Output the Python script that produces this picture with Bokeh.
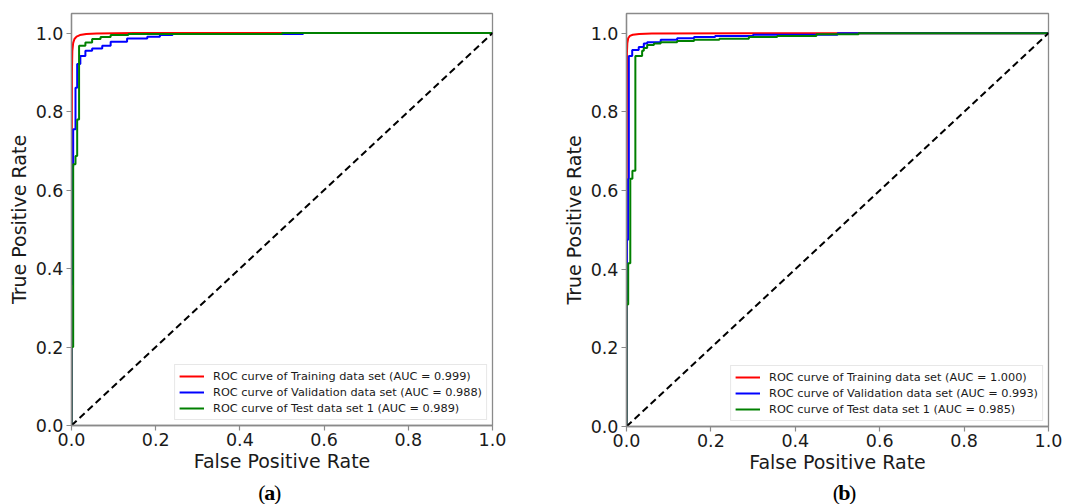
from bokeh.plotting import figure
from bokeh.layouts import row, column
from bokeh.models import Range1d, FixedTicker, NumeralTickFormatter
from bokeh.core.properties import value
from bokeh.embed import file_html
from bokeh.resources import INLINE

# ---------------- data ----------------
TICKS = [0.0, 0.2, 0.4, 0.6, 0.8, 1.0]
CHANCE_FPR = [0.0, 1.0]
CHANCE_TPR = [0.0, 1.0]

A_LABELS = ["ROC curve of Training data set (AUC = 0.999)",
            "ROC curve of Validation data set (AUC = 0.988)",
            "ROC curve of Test data set 1 (AUC = 0.989)"]
B_LABELS = ["ROC curve of Training data set (AUC = 1.000)",
            "ROC curve of Validation data set (AUC = 0.993)",
            "ROC curve of Test data set 1 (AUC = 0.985)"]
CAPTIONS = ["a", "b"]

# panel (a)
A_TRAIN_FPR = [0.0, 0.0, 0.001, 0.002, 0.004, 0.007, 0.012, 0.02, 0.035, 0.06, 0.15, 1.0]
A_TRAIN_TPR = [0.0, 0.35, 0.90, 0.955, 0.975, 0.985, 0.991, 0.995, 0.998, 0.999, 1.0, 1.0]
A_VAL_FPR = [0.0, 0.0, 0.002, 0.002, 0.004, 0.004, 0.0095, 0.0095, 0.0135, 0.0135, 0.021, 0.021,
             0.033, 0.033, 0.049, 0.049, 0.073, 0.073, 0.093, 0.093, 0.132, 0.132, 0.18, 0.18,
             0.21, 0.21, 0.24, 0.24, 0.55, 0.55, 1.0]
A_VAL_TPR = [0.0, 0.36, 0.36, 0.66, 0.66, 0.755, 0.755, 0.861, 0.861, 0.921, 0.921, 0.942,
             0.942, 0.955, 0.955, 0.961, 0.961, 0.968, 0.968, 0.978, 0.978, 0.986, 0.986, 0.991,
             0.991, 0.995, 0.995, 0.998, 0.998, 1.0, 1.0]
A_TEST_FPR = [0.0, 0.0, 0.004, 0.004, 0.0095, 0.0095, 0.0135, 0.0135, 0.018, 0.018, 0.033, 0.033,
              0.049, 0.049, 0.069, 0.069, 0.093, 0.093, 0.135, 0.135, 0.5, 0.5, 1.0]
A_TEST_TPR = [0.0, 0.2, 0.2, 0.666, 0.666, 0.687, 0.687, 0.78, 0.78, 0.968, 0.968, 0.976,
              0.976, 0.985, 0.985, 0.99, 0.99, 0.995, 0.995, 0.998, 0.998, 1.0, 1.0]

# panel (b)
B_TRAIN_FPR = [0.0, 0.0, 0.001, 0.002, 0.004, 0.008, 0.015, 0.03, 0.06, 0.3, 1.0]
B_TRAIN_TPR = [0.0, 0.5, 0.95, 0.975, 0.987, 0.993, 0.996, 0.998, 0.999, 1.0, 1.0]
B_VAL_FPR = [0.0, 0.0, 0.001, 0.001, 0.004, 0.004, 0.0055, 0.0055, 0.0135, 0.0135, 0.029, 0.029,
             0.041, 0.041, 0.049, 0.049, 0.081, 0.081, 0.12, 0.12, 0.16, 0.16, 0.21, 0.21,
             0.30, 0.30, 0.50, 0.50, 1.0]
B_VAL_TPR = [0.0, 0.32, 0.32, 0.475, 0.475, 0.63, 0.63, 0.942, 0.942, 0.957, 0.957, 0.965,
             0.965, 0.974, 0.974, 0.977, 0.977, 0.983, 0.983, 0.987, 0.987, 0.990, 0.990, 0.993,
             0.993, 0.996, 0.996, 1.0, 1.0]
B_TEST_FPR = [0.0, 0.0, 0.004, 0.004, 0.009, 0.009, 0.014, 0.014, 0.021, 0.021, 0.037, 0.037,
              0.041, 0.041, 0.049, 0.049, 0.065, 0.065, 0.081, 0.081, 0.12, 0.12, 0.16, 0.16,
              0.22, 0.22, 0.29, 0.29, 0.357, 0.357, 0.45, 0.45, 0.55, 0.55, 1.0]
B_TEST_TPR = [0.0, 0.31, 0.31, 0.415, 0.415, 0.63, 0.63, 0.65, 0.65, 0.942, 0.942, 0.955,
              0.955, 0.962, 0.962, 0.97, 0.97, 0.974, 0.974, 0.977, 0.977, 0.98, 0.98, 0.983,
              0.983, 0.986, 0.986, 0.99, 0.99, 0.993, 0.993, 0.997, 0.997, 1.0, 1.0]

COLORS = ["#ff0000", "#0000ff", "#008000"]
FRAME_GRAY = "#8a8a8a"
TEXT = "#1a1a1a"
MAIN_H = 476
CAP_H = 28


def make_panel(series, labels, width, bl, br, bb):
    p = figure(width=width, height=MAIN_H, output_backend="svg", toolbar_location=None,
               x_range=Range1d(0, 1), y_range=Range1d(0, 1.05),
               min_border_left=bl, min_border_right=br, min_border_top=13,
               min_border_bottom=bb, background_fill_color="white",
               border_fill_color="white")
    p.outline_line_color = FRAME_GRAY
    p.outline_line_width = 1.3
    p.grid.visible = False
    for ax in (p.xaxis[0], p.yaxis[0]):
        ax.ticker = FixedTicker(ticks=TICKS)
        ax.formatter = NumeralTickFormatter(format="0.0")
        ax.axis_line_color = FRAME_GRAY
        ax.axis_line_width = 1.3
        ax.major_tick_line_color = FRAME_GRAY
        ax.major_tick_line_width = 1.2
        ax.major_tick_out = 5
        ax.major_tick_in = 0
        ax.minor_tick_line_color = None
        ax.major_label_text_font = "DejaVu Sans"
        ax.major_label_text_font_size = "17.5px"
        ax.major_label_text_color = TEXT
        ax.major_label_standoff = 2
        ax.axis_label_text_font = "DejaVu Sans"
        ax.axis_label_text_font_size = "19px"
        ax.axis_label_text_font_style = "normal"
        ax.axis_label_text_color = TEXT
        ax.axis_label_standoff = 1
    p.yaxis.major_label_standoff = 3
    p.yaxis.axis_label_standoff = 3
    p.xaxis.axis_label = "False Positive Rate"
    p.yaxis.axis_label = "True Positive Rate"

    for (fx, ty), lab, col in zip(series, labels, COLORS):
        p.line(fx, ty, line_color=col, line_width=2, legend_label=lab)
    p.line(CHANCE_FPR, CHANCE_TPR, line_color="black", line_width=2, line_dash="7 4")

    lg = p.legend[0]
    lg.location = "bottom_right"
    lg.margin = 5
    lg.padding = 4
    lg.spacing = 2
    lg.glyph_width = 25
    lg.glyph_height = 14
    lg.label_height = 14
    lg.label_standoff = 9
    lg.label_text_font = "DejaVu Sans"
    lg.label_text_font_size = "11.3px"
    lg.label_text_color = TEXT
    lg.border_line_color = "#d0d0d0"
    lg.border_line_width = 1
    lg.background_fill_alpha = 0.85
    return p


def make_caption(letter, width, cx):
    c = figure(width=width, height=CAP_H, output_backend="svg", toolbar_location=None,
               x_range=Range1d(0, width), y_range=Range1d(0, CAP_H),
               x_axis_type=None, y_axis_type=None, min_border=0,
               background_fill_color="white", border_fill_color="white")
    c.outline_line_color = None
    c.grid.visible = False
    half = 5.5
    common = dict(text_font=value("Liberation Serif"), text_font_size="22px",
                  text_baseline="middle", text_color="black")
    c.text(x=[cx - half], y=[12.5], text=["("], text_align="right", **common)
    c.text(x=[cx], y=[12.5], text=[letter], text_align="center", text_font_style="bold", **common)
    c.text(x=[cx + half], y=[12.5], text=[")"], text_align="left", **common)
    return c


pa = make_panel([(A_TRAIN_FPR, A_TRAIN_TPR), (A_VAL_FPR, A_VAL_TPR), (A_TEST_FPR, A_TEST_TPR)],
                A_LABELS, 550, 71, 58, 51)
pb = make_panel([(B_TRAIN_FPR, B_TRAIN_TPR), (B_VAL_FPR, B_VAL_TPR), (B_TEST_FPR, B_TEST_TPR)],
                B_LABELS, 515, 76, 17, 50)
ca = make_caption(CAPTIONS[0], 550, 259)
cb = make_caption(CAPTIONS[1], 515, 266)

layout = row(column(pa, ca), column(pb, cb))
open("out.html", "w").write(file_html(layout, INLINE))
